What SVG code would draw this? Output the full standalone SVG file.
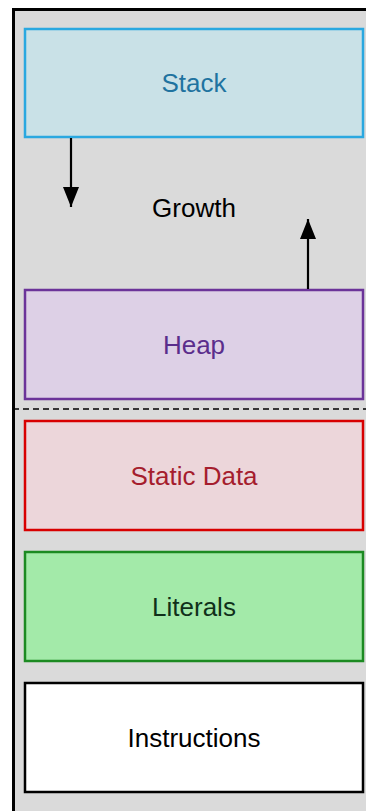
<svg xmlns="http://www.w3.org/2000/svg" width="366" height="811" viewBox="0 0 366 811">
  <style>
    .seg { stroke-width: 2.5; }
    .label { font-family: "Liberation Sans", Arial, sans-serif; font-size: 26px; text-anchor: middle; }
    .wire { stroke: #000; stroke-width: 2.2; fill: none; }
  </style>
  <defs>
    <marker id="head" viewBox="0 0 20 16" refX="20" refY="8" markerWidth="20" markerHeight="16" markerUnits="userSpaceOnUse" orient="auto">
      <path d="M0,0 L20,8 L0,16 Z" fill="#000"/>
    </marker>
  </defs>

  <!-- memory area frame -->
  <rect x="13.5" y="9.5" width="370" height="820" fill="#dadada" stroke="#000" stroke-width="3"/>
  <line x1="13" y1="409" x2="366" y2="409" stroke="#000" stroke-width="1.5" stroke-dasharray="6 4"/>

  <g id="stack">
    <rect class="seg" x="25" y="29" width="338" height="108" fill="#c9e1e7" stroke="#2aa8e0"/>
    <text class="label" x="194" y="92" fill="#1f73a0">Stack</text>
  </g>

  <g id="growth">
    <text class="label" x="194" y="217" fill="#000">Growth</text>
  </g>

  <g id="heap">
    <rect class="seg" x="25" y="290" width="338" height="109" fill="#ddd0e6" stroke="#6b3399"/>
    <text class="label" x="194" y="354" fill="#5a2d8c">Heap</text>
  </g>

  <g id="static-data">
    <rect class="seg" x="25" y="421" width="338" height="109" fill="#ecd6da" stroke="#d80000"/>
    <text class="label" x="194" y="485" fill="#a51d2d">Static Data</text>
  </g>

  <g id="literals">
    <rect class="seg" x="25" y="552" width="338" height="109" fill="#a3eaa9" stroke="#1c8a22"/>
    <text class="label" x="194" y="616" fill="#10301a">Literals</text>
  </g>

  <g id="instructions">
    <rect class="seg" x="25" y="683" width="338" height="109" fill="#ffffff" stroke="#000"/>
    <text class="label" x="194" y="747" fill="#000">Instructions</text>
  </g>

  <g id="connectors">
    <line class="wire" x1="71" y1="138" x2="71" y2="207" marker-end="url(#head)"/>
    <line class="wire" x1="308" y1="289" x2="308" y2="219" marker-end="url(#head)"/>
  </g>
</svg>
